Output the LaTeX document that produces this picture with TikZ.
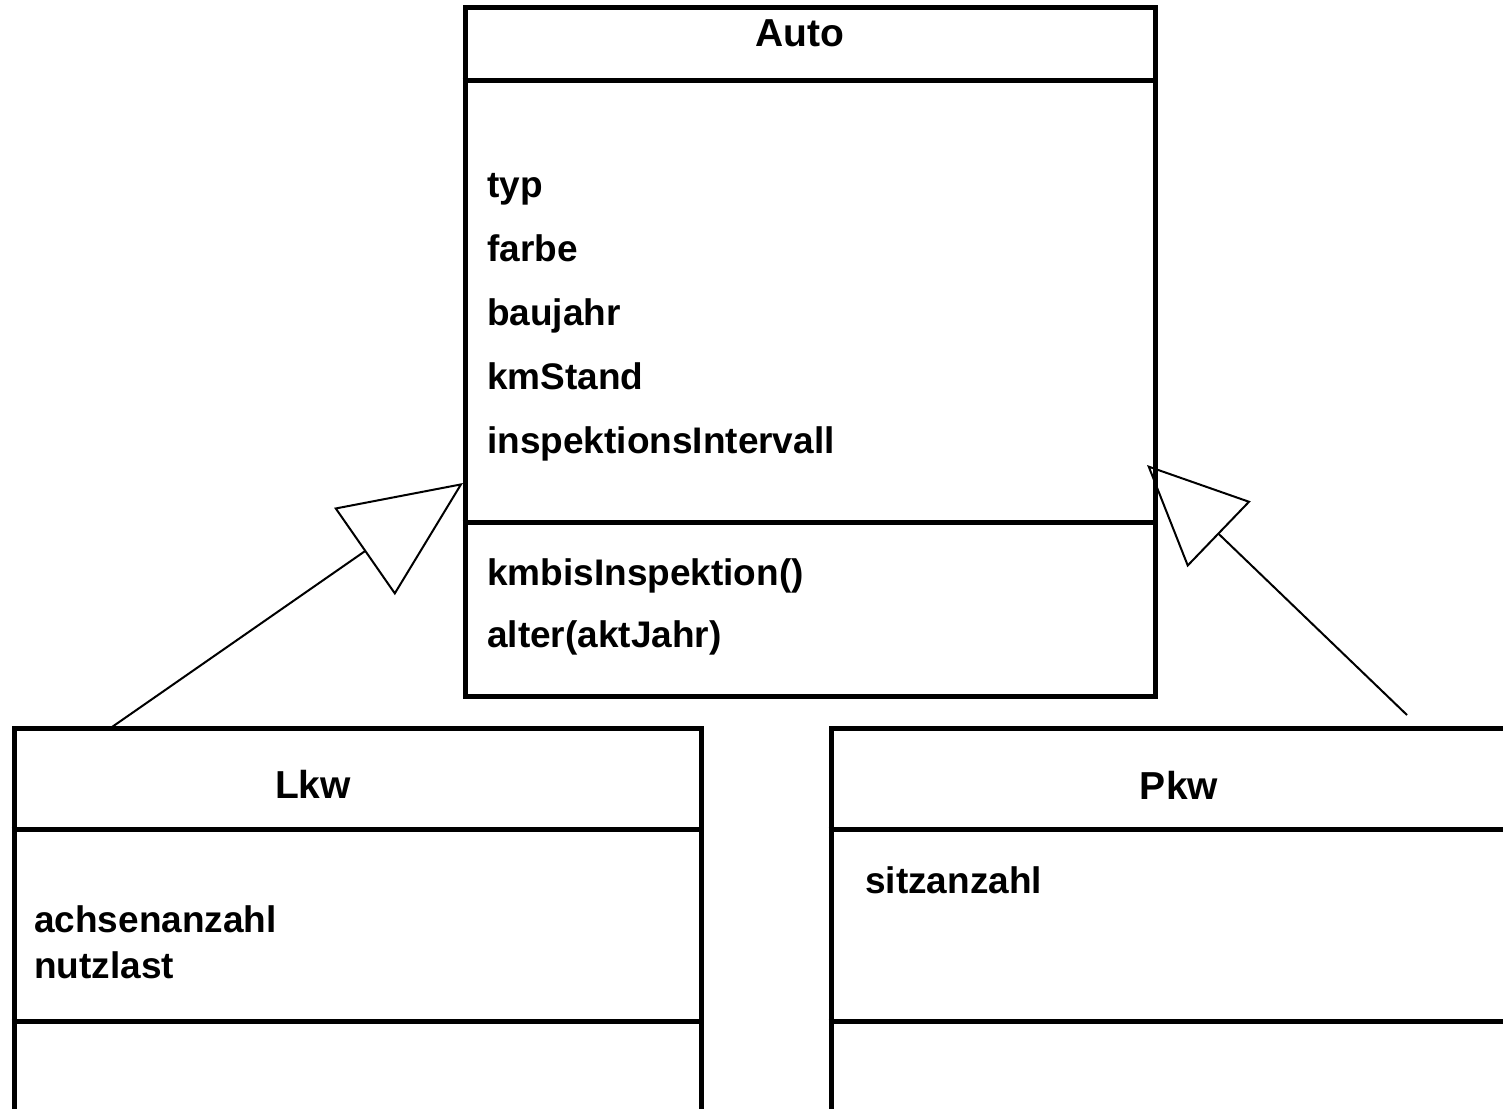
\documentclass[tikz,border=0pt]{standalone}
\usepackage{fontspec}
\setmainfont{Liberation Sans}
\usetikzlibrary{arrows.meta}
\tikzset{
  classbox/.style={draw, line width=5pt, rectangle, inner sep=0pt},
  divider/.style={line width=5pt},
  member/.style={anchor=base west, inner sep=0pt, font=\fontsize{37}{44}\selectfont\bfseries},
  title/.style={anchor=base, inner sep=0pt, font=\fontsize{39}{46}\selectfont\bfseries},
  inherit/.style={line width=2pt},
}
\begin{document}
\begin{tikzpicture}[x=1pt,y=-1pt]
\useasboundingbox (0,0) rectangle (1503,1108);
\clip (0,0) rectangle (1503,1108);

% class boxes
\node[classbox, minimum width=690pt, minimum height=689pt] (auto) at (810,352) {};
\node[classbox, minimum width=687pt, minimum height=420pt] (lkw) at (357.5,938) {};
\node[classbox, minimum width=700pt, minimum height=420pt] (pkw) at (1181,938) {};

% compartment dividers
\draw[divider] (auto.west |- 0,80) -- (auto.east |- 0,80);
\draw[divider] (auto.west |- 0,522) -- (auto.east |- 0,522);
\draw[divider] (lkw.west |- 0,829) -- (lkw.east |- 0,829);
\draw[divider] (lkw.west |- 0,1021) -- (lkw.east |- 0,1021);
\draw[divider] (pkw.west |- 0,829) -- (pkw.east |- 0,829);
\draw[divider] (pkw.west |- 0,1021) -- (pkw.east |- 0,1021);

% Auto
\node[title] (autoname) at (800,47) {Auto};
\node[member] (typ) at (487,197) {typ};
\node[member] (farbe) at (487,261) {farbe};
\node[member] (baujahr) at (487,325) {baujahr};
\node[member] (kmstand) at (487,389) {kmStand};
\node[member] (intervall) at (487,453) {inspektionsIntervall};
\node[member] (kmbis) at (487,585) {kmbisInspektion()};
\node[member] (alter) at (487,647) {alter(aktJahr)};

% Lkw
\node[title] (lkwname) at (313,798) {Lkw};
\node[member] (achsen) at (34,932) {achsenanzahl};
\node[member] (nutzlast) at (34,978) {nutzlast};

% Pkw
\node[title] (pkwname) at (1179,799) {Pkw};
\node[member] (sitz) at (865,893) {sitzanzahl};

% generalisation connectors
\coordinate (lfoot) at (112,727);
\coordinate (ltip) at (463,483);
\coordinate (rfoot) at (1407,715);
\coordinate (rtip) at (1147,465);
\draw[inherit, -{Triangle[open, length=120pt, width=106pt, line width=2pt]}] (lfoot) -- (ltip);
\draw[inherit, -{Triangle[open, length=100pt, width=91pt, line width=2pt]}] (rfoot) -- (rtip);
\end{tikzpicture}
\end{document}
